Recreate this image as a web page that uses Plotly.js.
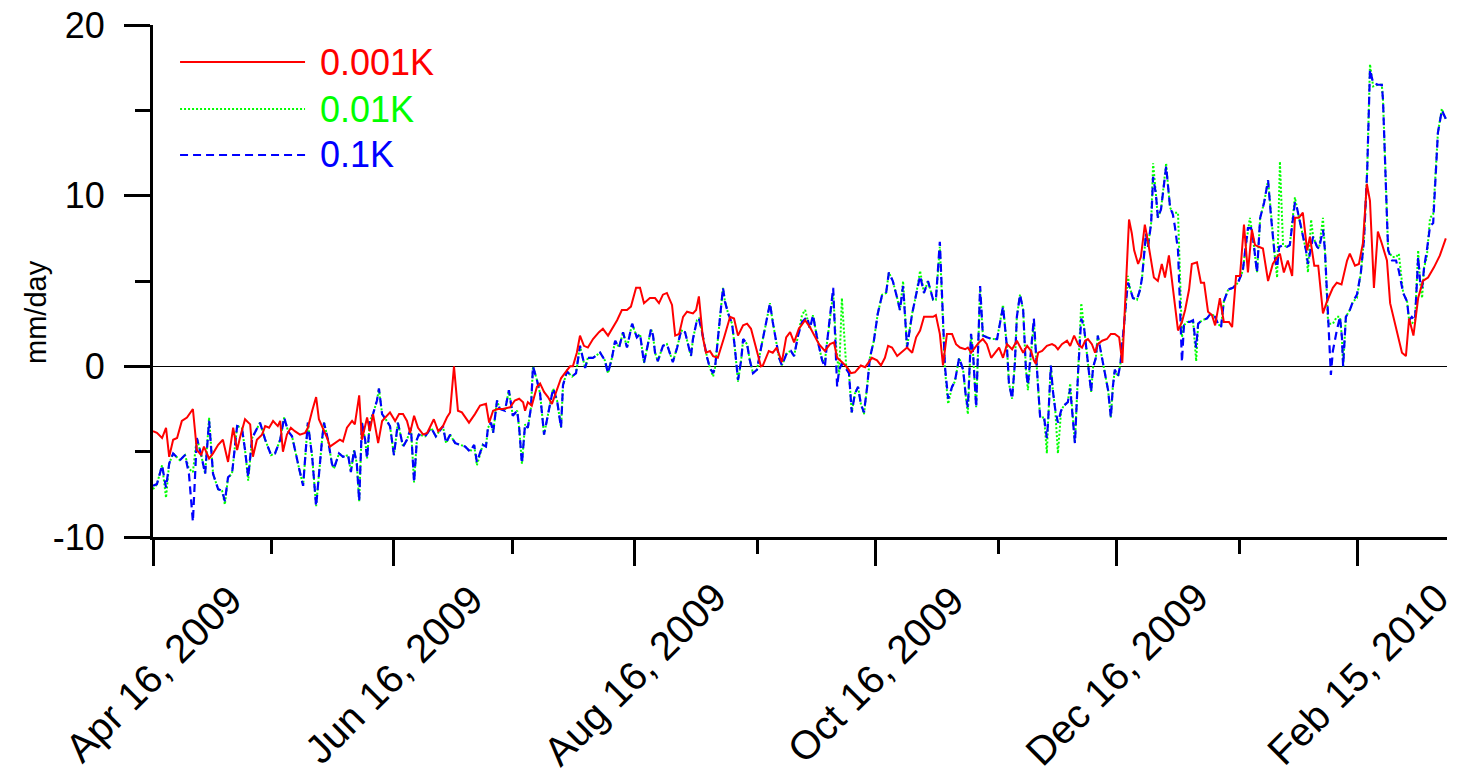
<!DOCTYPE html>
<html>
<head>
<meta charset="utf-8">
<script src="https://cdn.plot.ly/plotly-3.0.1.min.js"></script>
<style>
  html, body { margin: 0; padding: 0; background: #ffffff; }
  #chart { width: 1457px; height: 772px; }
</style>
</head>
<body>
<div id="chart"></div>
<script>
// Daily difference series, days counted from Apr 16, 2009
const startDate = Date.UTC(2009, 3, 16);

const redDays = [0,1.0,2.3,3.3,4.1,5.1,6.1,7.3,8.6,10.1,11.1,12.2,12.9,14.2,15.2,16.5,17.7,19.0,20.3,21.3,22.0,23.3,24.6,25.3,26.3,27.6,28.4,29.4,30.4,31.6,32.2,32.9,33.9,34.9,35.9,37.2,38.5,39.2,40.3,41.3,42.0,43.0,44.1,44.8,46.1,47.3,48.1,49.1,50.4,51.1,52.2,52.9,54.2,54.9,55.7,57.0,58.0,60.0,61.3,62.3,63.3,64.3,65.1,66.1,67.1,68.4,69.4,71.1,72.2,73.4,74.4,75.2,76.2,77.2,78.2,79.2,80.0,81.5,82.8,84.3,85.1,86.1,87.3,88.6,90.4,91.6,92.7,93.7,94.2,94.9,95.9,97.2,98.0,99.0,100.0,101.0,102.3,103.3,104.6,105.6,106.3,107.3,108.1,109.1,110.1,111.4,112.9,113.9,115.2,116.2,117.5,118.7,120.0,121.0,122.3,123.3,124.3,125.8,127.1,128.1,129.1,130.1,131.4,132.2,133.2,134.2,135.2,136.7,137.5,138.2,139.2,140.0,141.0,141.8,143.0,144.6,146.1,147.1,148.1,149.4,150.4,151.4,152.7,153.9,154.4,155.9,156.9,157.9,159.2,160.3,161.3,162.3,163.5,165.1,166.3,167.6,168.6,170.1,171.4,172.4,173.2,174.4,175.7,176.7,177.7,179.2,180.3,182.0,183.3,184.3,185.3,186.1,187.1,188.4,189.4,190.9,192.2,193.2,194.2,195.2,196.2,197.5,198.2,199.2,200.0,201.0,202.3,203.3,204.3,205.6,206.3,207.1,208.1,209.1,210.1,211.1,212.2,213.2,214.2,215.2,216.2,217.5,218.7,220.3,221.3,222.3,223.0,223.5,224.1,225.1,226.3,227.6,228.4,229.1,230.1,231.4,232.2,233.2,234.2,235.2,236.0,236.7,237.7,238.5,239.2,240.3,241.5,242.5,243.5,244.6,245.4,247.1,247.8,248.4,249.4,250.1,251.1,251.9,252.7,253.4,254.4,255.4,256.2,257.2,259.5,260.5,261.3,262.3,263.0,264.3,265.3,266.1,267.1,268.1,268.9,270.1,271.1,272.4,273.2,274.2,275.2,276.2,277.2,278.2,279.0,280.3,281.0,282.3,283.5,284.6,285.3,286.3,287.3,288.4,289.1,290.1,291.1,292.2,292.9,294.0,295.0,296.2,297.2,298.7,299.7,300.9,302.3,303.0,304.3,305.3,306.3,307.3,308.1,309.1,310.1,311.1,312.4,313.2,314.5,315.2,316.2,317.2,318.0,319.1,320.3,321.5,322.8,324.3,325.8,327.3];
const redVals = [-3.8,-3.9,-4.2,-3.6,-5.3,-4.3,-4.2,-3.2,-3.0,-2.5,-4.9,-5.2,-4.7,-5.4,-5.1,-4.6,-4.3,-5.6,-3.6,-4.9,-4.2,-3.1,-3.4,-5.3,-4.3,-4.0,-3.5,-3.6,-3.2,-3.5,-3.2,-5.0,-4.0,-3.6,-3.8,-4.0,-3.9,-3.6,-2.6,-1.8,-3.1,-3.6,-4.2,-4.7,-4.5,-4.3,-4.4,-3.6,-3.2,-3.4,-1.7,-4.3,-3.0,-3.8,-2.8,-4.5,-3.2,-2.7,-3.2,-2.8,-2.8,-3.2,-3.9,-2.9,-3.6,-4.0,-3.9,-3.1,-3.8,-3.5,-3.0,-2.7,0.0,-2.6,-2.7,-3.0,-3.3,-2.8,-2.3,-2.2,-3.3,-2.6,-2.5,-2.5,-2.4,-2.0,-1.9,-2.1,-2.6,-2.1,-2.3,-1.2,-1.0,-1.5,-1.8,-2.2,-1.3,-0.7,-0.3,0.0,0.0,0.8,1.8,1.2,1.1,1.6,2.0,2.2,1.8,2.2,2.7,3.3,3.3,3.5,4.6,4.6,3.7,4.0,4.0,3.7,4.2,4.3,3.6,1.8,1.9,2.9,3.2,3.1,3.3,4.1,1.7,0.8,0.9,0.6,0.5,1.7,2.9,2.8,1.8,2.4,2.5,2.2,1.1,0.0,0.05,0.9,0.8,1.1,0.25,1.7,2.0,1.4,2.2,2.7,2.3,1.7,1.3,0.9,1.3,1.4,0.5,0.25,-0.05,-0.4,-0.35,0.05,-0.05,0.5,0.35,0.05,0.5,1.2,1.1,0.6,0.8,1.1,0.8,1.7,2.1,2.9,2.9,2.9,3.0,1.9,0.05,1.9,1.9,1.3,1.1,1.0,1.1,0.8,1.1,1.4,1.6,1.3,0.5,0.8,1.1,0.5,1.3,1.0,1.5,0.8,1.2,0.9,0.35,0.15,0.8,0.9,1.2,1.3,1.2,1.0,1.3,1.5,1.2,1.8,1.3,1.1,1.5,1.6,1.3,0.8,1.3,1.5,1.6,1.9,1.9,1.7,0.2,8.6,7.8,6.8,6.0,6.4,8.3,7.3,6.2,5.2,5.0,6.0,5.2,6.5,2.1,2.6,3.3,4.5,6.0,6.1,4.9,4.9,3.2,3.0,2.4,4.0,2.6,2.6,2.3,5.3,5.3,8.3,5.5,8.0,7.1,7.0,6.9,5.0,6.0,6.4,6.6,5.5,6.2,5.3,8.7,8.7,9.0,6.8,7.6,5.9,5.9,3.1,3.8,4.6,4.9,4.8,6.2,6.6,5.9,6.0,7.2,10.7,9.7,4.6,7.9,7.2,6.2,3.7,2.5,1.9,0.8,0.6,2.8,1.8,4.0,5.0,5.2,5.8,6.5,7.5];

const blueDays = [0,1.0,2.3,3.3,4.1,5.1,6.8,8.1,9.1,10.1,11.1,12.2,13.2,14.2,15.2,16.5,17.5,18.2,19.0,20.0,21.3,22.5,23.3,24.1,25.1,26.3,27.1,28.4,29.9,30.9,32.2,33.2,34.2,35.2,35.9,37.0,38.0,39.2,40.3,41.3,42.8,43.3,44.3,45.3,45.8,47.1,48.1,49.4,50.1,50.9,51.6,52.2,52.9,53.7,54.2,54.9,55.7,56.7,57.2,58.0,59.2,60.0,61.0,62.0,63.3,64.3,65.3,66.1,66.8,67.3,68.9,70.4,71.6,72.4,73.4,74.2,75.2,76.5,77.7,79.0,80.3,81.3,82.0,82.8,83.5,84.3,84.8,85.6,86.1,87.1,87.8,89.1,90.1,91.1,92.2,92.7,93.4,94.2,94.9,95.7,96.2,97.2,98.0,99.0,100.0,101.3,102.3,103.3,103.8,104.8,106.1,107.1,108.1,109.4,110.1,111.4,113.2,114.4,115.2,116.2,117.0,118.0,119.0,120.0,121.3,122.5,123.3,124.3,125.3,126.1,126.6,127.1,127.8,129.1,130.1,131.1,131.6,132.7,133.7,134.7,135.4,136.2,136.7,137.7,138.2,139.0,140.3,141.0,141.8,142.3,144.3,144.8,145.6,146.6,147.3,148.1,148.9,149.4,150.4,151.1,151.9,152.9,153.7,154.4,155.4,156.2,156.9,157.9,158.5,159.2,160.5,161.5,162.3,163.3,164.3,165.6,166.3,167.1,168.1,169.4,170.1,170.6,171.4,172.2,173.2,173.7,174.4,175.2,176.2,176.9,177.7,178.5,179.2,180.0,180.8,181.5,182.5,183.5,184.6,185.6,186.3,187.3,188.4,189.1,189.9,190.9,192.2,193.2,194.2,195.2,196.2,197.5,198.2,199.2,200.5,201.3,202.3,203.0,204.1,205.1,205.8,206.3,207.1,207.6,208.4,209.4,210.1,211.1,212.4,213.7,214.4,215.2,216.2,216.7,217.5,218.2,218.7,219.5,220.3,221.0,221.5,223.0,224.1,224.6,225.6,226.3,226.6,227.3,227.8,228.4,229.1,229.9,230.6,231.6,232.2,232.9,233.4,234.2,235.0,235.7,236.5,237.0,237.5,238.0,238.7,239.2,240.3,241.0,241.8,242.5,243.0,243.5,244.3,244.9,246.3,246.8,247.3,248.1,249.1,249.9,250.4,251.4,251.9,252.7,253.2,253.9,254.4,255.2,256.5,257.0,257.5,258.2,258.7,259.5,260.5,261.0,261.8,262.5,263.3,264.1,264.6,265.6,266.8,267.8,268.9,269.6,270.4,271.1,272.2,273.4,274.7,275.9,276.7,277.2,278.0,278.5,279.5,280.3,281.3,282.3,283.0,284.1,284.6,285.1,286.1,287.1,287.8,288.6,289.1,289.6,290.4,291.1,291.9,292.4,293.2,293.7,294.7,295.2,296.2,296.7,298.2,298.7,299.7,300.5,301.0,301.3,302.0,303.0,303.8,304.8,305.8,306.6,307.4,308.1,308.9,310.1,311.1,311.4,312.4,312.7,313.7,314.7,315.4,316.5,317.5,318.0,318.7,319.5,320.3,320.8,321.3,321.8,322.5,323.3,324.1,325.3,326.3,326.8,327.3];
const blueVals = [-7.0,-6.9,-5.8,-7.1,-5.7,-5.1,-5.5,-5.2,-6.3,-9.1,-4.2,-5.2,-6.3,-3.2,-6.3,-7.2,-7.3,-7.9,-6.5,-6.3,-3.5,-3.6,-4.9,-6.5,-4.2,-3.6,-3.3,-4.3,-5.2,-5.1,-4.3,-3.0,-3.8,-4.1,-4.9,-6.0,-7.0,-3.3,-5.3,-8.2,-4.3,-3.3,-4.3,-5.7,-6.0,-5.1,-5.3,-5.2,-6.2,-4.9,-5.7,-7.9,-3.3,-4.3,-5.4,-3.2,-2.8,-2.0,-1.3,-2.8,-3.2,-3.5,-5.2,-3.3,-4.7,-4.3,-3.6,-6.8,-4.3,-4.0,-4.1,-3.6,-4.1,-3.8,-3.5,-4.5,-4.0,-4.5,-4.6,-4.7,-5.0,-4.6,-5.6,-5.1,-4.6,-4.7,-3.6,-3.3,-3.9,-2.0,-2.5,-2.6,-1.4,-2.9,-2.6,-3.6,-5.7,-3.4,-3.6,-2.4,0.0,-0.8,-1.6,-4.0,-2.8,-1.3,-2.0,-3.6,-1.1,-0.3,-0.6,-0.4,1.2,-0.1,0.5,0.5,0.8,0.35,-0.4,0.5,1.5,1.1,2.0,1.1,2.5,1.7,1.9,0.2,1.3,2.2,1.8,0.8,0.3,1.2,1.3,0.5,0.25,1.1,2.1,2.0,1.3,0.6,1.6,2.7,2.8,2.0,0.5,-0.1,-0.4,-0.05,4.6,3.8,3.1,2.5,1.1,-0.8,0.35,1.6,1.3,0.35,-0.4,-0.2,0.8,1.6,2.7,3.7,2.6,1.2,0.5,0.05,0.8,0.9,0.6,1.8,2.6,2.9,2.2,3.0,1.7,0.35,-0.05,1.3,2.9,4.6,-1.2,-0.2,0.15,-0.05,-0.4,-2.7,-1.6,-1.2,-2.2,-2.7,-1.2,0.5,1.5,3.1,4.2,4.3,5.5,5.0,4.0,3.3,4.7,1.1,3.1,4.2,5.3,4.3,5.0,3.9,3.9,7.3,0.0,-1.9,-1.2,-0.9,0.5,-0.2,-1.8,-2.4,1.9,0.8,-2.4,4.7,1.8,1.7,1.6,1.6,2.5,3.5,1.1,-1.0,-1.9,0.2,2.9,4.2,3.3,-0.2,-1.1,2.8,-1.3,-3.0,-3.0,-4.2,-3.3,0.05,-1.4,-2.5,-3.3,-2.6,-2.3,-2.1,-1.3,-3.3,-4.5,-0.35,2.8,2.3,0.5,-0.6,-1.5,-0.05,0.5,1.8,0.35,-0.4,-1.4,-3.0,-1.2,-0.2,-0.6,0.1,3.5,4.9,4.6,4.0,3.9,4.5,5.2,7.8,7.0,8.4,11.1,10.1,8.7,9.2,11.7,10.5,9.3,8.9,8.2,6.8,0.25,2.4,2.6,2.6,2.7,1.1,2.5,2.7,2.8,3.1,2.9,2.5,2.3,3.8,4.5,4.6,4.9,5.6,7.1,8.1,8.1,7.5,5.5,8.7,9.6,10.9,8.9,6.2,5.8,7.0,7.1,7.0,7.1,8.7,9.6,9.3,8.4,7.8,6.8,6.0,7.0,7.6,7.0,6.9,8.0,6.8,-0.5,0.9,2.1,2.9,1.7,0.0,2.9,3.3,3.8,4.2,5.5,7.5,11.5,17.4,16.6,16.5,16.5,15.6,8.7,6.8,6.2,6.2,5.6,4.3,3.8,2.7,2.9,2.7,6.4,4.9,4.6,5.8,6.8,8.2,8.4,13.7,15.0,14.7,14.5];

const greenDays = [0,1.0,2.3,3.3,4.1,5.1,6.8,8.1,9.1,10.1,11.1,12.2,13.2,14.2,15.2,16.5,17.5,18.2,19.0,20.0,21.3,22.5,23.3,24.1,25.1,26.3,27.1,28.4,29.9,30.9,32.2,33.2,34.2,35.2,35.9,37.0,38.0,39.2,40.3,41.3,42.8,43.3,44.3,45.3,45.8,47.1,48.1,49.4,50.1,50.9,51.6,52.2,52.9,53.7,54.2,54.9,55.7,56.7,57.2,58.0,59.2,60.0,61.0,62.0,63.3,64.3,65.3,66.1,66.8,67.3,68.9,70.4,71.6,72.4,73.4,74.2,75.2,76.5,77.7,79.0,80.3,81.3,82.0,82.8,83.5,84.3,84.8,85.6,86.1,87.1,87.8,89.1,90.1,91.1,92.2,92.7,93.4,94.2,94.9,95.7,96.2,97.2,98.0,99.0,100.0,101.3,102.3,103.3,103.8,104.8,106.1,107.1,108.1,109.4,110.1,111.4,113.2,114.4,115.2,116.2,117.0,118.0,119.0,120.0,121.3,122.5,123.3,124.3,125.3,126.1,126.6,127.1,127.8,129.1,130.1,131.1,131.6,132.7,133.7,134.7,135.4,136.2,136.7,137.7,138.2,139.0,140.3,141.0,141.8,142.3,144.3,144.8,145.6,146.6,147.3,148.1,148.9,149.4,150.4,151.1,151.9,152.9,153.7,154.4,155.4,156.2,156.9,157.9,158.5,159.2,160.5,161.5,162.3,163.3,164.3,165.1,166.3,167.1,168.1,169.4,170.1,170.6,171.4,172.2,173.0,173.7,174.4,175.5,176.2,176.9,177.7,178.5,179.2,180.0,180.8,181.5,182.5,183.5,184.6,185.6,186.3,187.3,188.4,189.1,189.9,190.9,192.2,193.2,194.2,195.2,196.2,197.5,198.2,199.2,200.5,201.3,202.3,203.0,204.1,205.1,205.8,206.3,207.1,207.6,208.4,209.4,210.1,211.1,212.4,213.7,214.4,215.2,216.2,216.7,217.5,218.2,218.7,219.5,220.3,221.0,221.5,223.0,224.1,224.6,225.6,226.3,226.6,227.3,227.8,228.4,229.1,229.9,230.6,231.6,232.2,232.9,233.4,234.2,235.0,235.7,236.5,237.0,237.5,238.0,238.7,239.2,240.3,241.0,241.8,242.5,243.0,243.5,244.3,244.9,246.3,246.8,247.3,248.1,249.1,249.9,250.4,251.4,251.9,252.7,253.2,253.9,254.4,255.2,256.5,257.0,257.5,258.2,258.7,259.5,260.5,261.0,261.8,262.5,263.3,264.1,264.6,265.6,266.8,267.8,268.9,269.6,270.4,271.1,272.2,273.4,274.7,275.9,276.7,277.7,278.5,279.5,280.3,281.3,282.3,283.0,284.1,284.6,285.3,286.1,287.1,287.8,288.6,289.1,289.6,290.4,291.1,291.9,292.4,293.2,293.7,294.7,295.2,296.2,296.7,297.5,298.7,299.7,300.5,301.0,301.3,302.0,303.0,303.8,304.8,305.8,306.6,307.4,308.1,308.9,310.1,311.1,311.4,312.4,312.7,313.7,314.7,315.4,316.5,317.5,318.0,318.7,319.5,320.3,320.8,321.3,321.8,322.5,323.3,324.1,325.3,326.3,326.8,327.3];
const greenVals = [-7.2,-6.9,-5.8,-7.7,-5.7,-5.1,-5.5,-5.2,-6.0,-6.2,-4.2,-5.2,-6.3,-3.0,-6.3,-7.2,-7.3,-8.1,-6.5,-6.3,-3.5,-3.6,-4.9,-6.7,-4.2,-3.6,-3.3,-4.3,-5.2,-5.1,-4.3,-3.0,-3.8,-4.1,-4.9,-6.0,-7.0,-3.3,-5.3,-8.2,-4.3,-3.3,-4.3,-5.7,-6.0,-5.1,-5.3,-5.2,-6.2,-4.9,-5.7,-7.9,-3.3,-4.3,-5.4,-3.2,-2.8,-2.0,-1.3,-2.8,-3.2,-3.5,-5.2,-3.3,-4.7,-4.3,-3.6,-6.8,-4.3,-4.0,-4.1,-3.6,-4.1,-3.8,-3.5,-4.5,-4.0,-4.5,-4.6,-4.7,-5.0,-4.6,-5.8,-5.1,-4.6,-4.7,-3.6,-3.3,-3.9,-2.0,-2.5,-2.6,-1.4,-2.9,-2.6,-3.6,-5.7,-3.4,-3.6,-2.4,0.0,-0.8,-1.6,-4.0,-2.8,-1.3,-2.0,-3.6,-1.1,-0.3,-0.6,-0.4,1.2,-0.1,0.5,0.5,0.8,0.35,-0.4,0.5,1.5,1.1,2.0,1.1,2.5,1.7,1.9,0.2,1.3,2.2,1.8,0.8,0.3,1.2,1.3,0.5,0.25,1.1,2.1,2.0,1.3,0.6,1.6,2.7,2.8,2.0,0.5,-0.1,-0.6,-0.05,4.6,3.8,3.1,2.5,1.1,-0.9,0.35,1.6,1.3,0.35,-0.4,-0.2,0.8,1.6,2.7,3.7,2.6,1.2,0.5,0.05,0.8,0.9,0.6,1.8,3.0,3.3,2.2,3.0,1.7,0.35,0.3,1.3,2.9,4.3,1.0,-0.5,4.0,0.0,-0.4,-2.7,-1.6,-1.2,-2.2,-2.8,-1.2,0.5,1.5,3.1,4.2,4.3,5.5,5.0,4.0,3.3,5.0,1.1,3.1,4.2,5.6,4.3,5.0,3.9,3.9,7.0,-0.2,-2.2,-1.2,-0.9,0.5,-0.2,-1.8,-2.8,1.9,0.8,-2.4,4.5,1.8,1.7,1.6,1.6,2.5,3.6,1.1,-1.0,-1.9,0.2,2.9,4.2,3.3,-0.2,-1.4,2.6,-1.3,-3.0,-3.0,-5.1,-3.3,0.05,-1.4,-2.5,-5.1,-2.6,-2.3,-2.1,-1.0,-3.3,-4.5,-0.35,3.7,2.3,0.5,-0.6,-1.5,-0.05,0.5,1.8,0.35,-0.4,-1.4,-3.0,-1.2,-0.2,-0.6,0.1,3.5,5.3,4.6,4.0,3.9,4.5,5.2,7.8,7.0,8.4,11.9,10.1,8.7,9.2,11.9,10.5,9.3,9.0,9.0,9.0,1.7,2.4,2.6,2.6,2.7,0.3,2.5,2.7,2.8,3.1,2.9,2.5,2.3,3.8,4.5,4.6,4.9,5.6,7.1,8.7,7.5,5.5,8.7,9.6,10.9,8.9,6.2,5.2,12.0,7.1,7.0,7.1,8.7,9.9,9.3,8.4,7.8,6.8,5.5,8.6,7.6,7.0,6.9,8.7,6.8,2.5,2.5,2.9,2.9,1.7,0.0,2.9,3.3,3.8,4.0,5.5,7.5,11.5,17.7,16.4,16.5,16.5,15.6,8.7,6.8,6.4,6.4,6.6,4.3,3.8,2.7,2.5,2.7,6.8,4.9,4.0,5.8,6.4,8.7,8.9,13.7,15.1,14.7,14.5];

// Axis ticks and labels
const tickDates = ['2009-04-16', '2009-06-16', '2009-08-16', '2009-10-16', '2009-12-16', '2010-02-15'];
const tickLabels = ['Apr 16, 2009', 'Jun 16, 2009', 'Aug 16, 2009', 'Oct 16, 2009', 'Dec 16, 2009', 'Feb 15, 2010'];
const minorTickDates = ['2009-05-16', '2009-07-16', '2009-09-16', '2009-11-16', '2010-01-16'];
const yTicks = [-10, 0, 10, 20];
const yTickLabels = ['-10', '0', '10', '20'];
const yMinorTicks = [-5, 5, 15];

const seriesNames = ['0.001K', '0.01K', '0.1K'];
const seriesColors = ['#ff0000', '#00ff00', '#0000ff'];
const seriesDash = ['solid', '2px,2px', '8px,5px'];

function toDates(days) {
  return days.map(d => new Date(startDate + d * 86400000).toISOString().slice(0, 19).replace('T', ' '));
}

const FONT = 'Liberation Sans, Arial, Helvetica, sans-serif';

const traces = [
  { x: toDates(greenDays), y: greenVals, name: seriesNames[1], mode: 'lines',
    line: { color: seriesColors[1], width: 2, dash: seriesDash[1] } },
  { x: toDates(blueDays), y: blueVals, name: seriesNames[2], mode: 'lines',
    line: { color: seriesColors[2], width: 2.2, dash: seriesDash[2] } },
  { x: toDates(redDays), y: redVals, name: seriesNames[0], mode: 'lines',
    line: { color: seriesColors[0], width: 2 } }
];

// Legend drawn as line samples with coloured labels in the upper left
const legendRows = [0.9277, 0.8359, 0.7461];
const shapes = [];
const annotations = [];
[0, 1, 2].forEach(i => {
  shapes.push({ type: 'line', xref: 'paper', yref: 'paper', x0: 0.0209, x1: 0.1175,
    y0: legendRows[i], y1: legendRows[i],
    line: { color: seriesColors[i], width: 2, dash: seriesDash[i] } });
  annotations.push({ xref: 'paper', yref: 'paper', x: 0.1275, y: legendRows[i],
    xanchor: 'left', yanchor: 'middle', showarrow: false, text: seriesNames[i],
    font: { family: FONT, size: 36, color: seriesColors[i] } });
});

// Rotated date labels centred under each major tick
tickDates.forEach((d, i) => {
  annotations.push({ xref: 'x', yref: 'paper', x: d, y: -0.268, xanchor: 'center', yanchor: 'middle',
    textangle: -45, showarrow: false, text: tickLabels[i],
    font: { family: FONT, size: 40, color: '#000000' } });
});

// Y axis title
annotations.push({ xref: 'paper', yref: 'y', x: -0.091, y: 3.2, xanchor: 'center', yanchor: 'middle',
  textangle: -90, showarrow: false, text: 'mm/day',
  font: { family: FONT, size: 29, color: '#000000' } });

const endDate = toDates([327.6])[0];

const layout = {
  width: 1457, height: 772,
  margin: { l: 153, r: 10, t: 25, b: 235, pad: 0 },
  paper_bgcolor: '#ffffff', plot_bgcolor: '#ffffff',
  showlegend: false,
  font: { family: FONT, size: 36, color: '#000000' },
  xaxis: {
    type: 'date', range: ['2009-04-16', endDate],
    showgrid: false, zeroline: false,
    showline: true, linecolor: '#000000', linewidth: 3,
    ticks: 'outside', tickmode: 'array', tickvals: tickDates, ticklen: 26, tickwidth: 3, tickcolor: '#000000',
    showticklabels: false,
    minor: { tickmode: 'array', tickvals: minorTickDates, ticks: 'outside', ticklen: 14, tickwidth: 3, tickcolor: '#000000', showgrid: false }
  },
  yaxis: {
    range: [-10, 20],
    showgrid: false,
    zeroline: true, zerolinecolor: '#000000', zerolinewidth: 1,
    showline: true, linecolor: '#000000', linewidth: 3,
    ticks: 'outside', tickmode: 'array', tickvals: yTicks, ticktext: yTickLabels,
    ticklen: 26, tickwidth: 3, tickcolor: '#000000',
    ticklabelstandoff: 12,
    tickfont: { family: FONT, size: 36, color: '#000000' },
    minor: { tickmode: 'array', tickvals: yMinorTicks, ticks: 'outside', ticklen: 15, tickwidth: 3, tickcolor: '#000000', showgrid: false }
  },
  shapes: shapes,
  annotations: annotations
};

Plotly.newPlot('chart', traces, layout, { displayModeBar: false, staticPlot: true });
</script>
</body>
</html>
